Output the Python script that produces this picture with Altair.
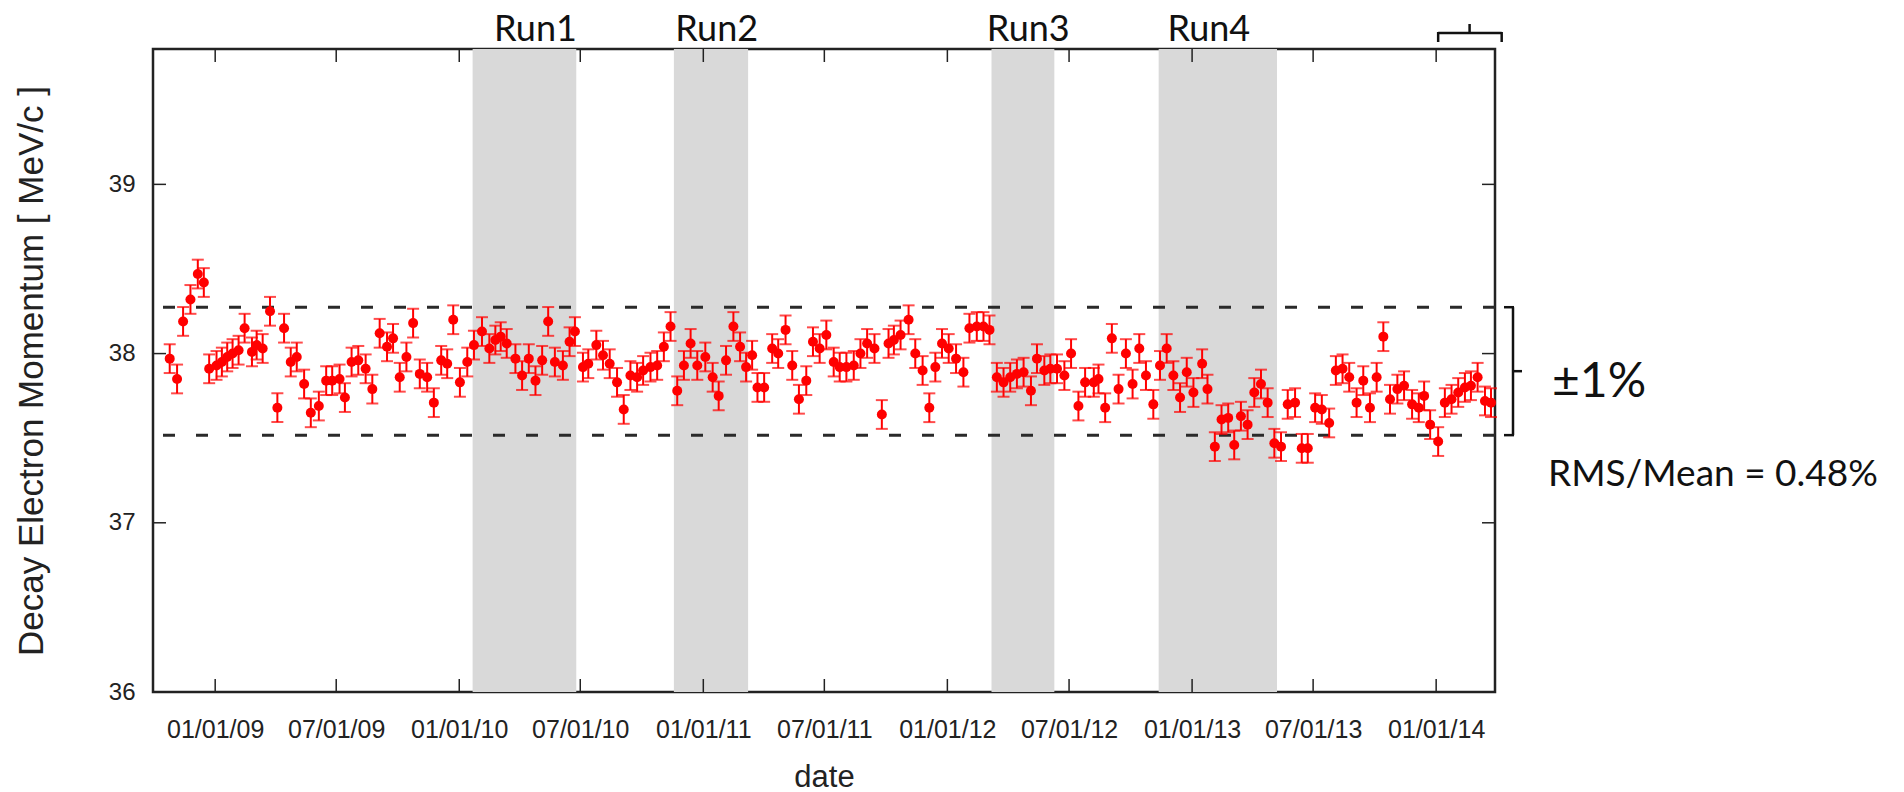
import altair as alt
import pandas as pd

# ---------------- data ----------------
BASE_DATE = "2009-01-01"
# days since 2009-01-01 for each measurement
DAYS = [-68, -57, -48, -37, -26, -17, -9, 2, 10, 18, 26, 35, 44, 55, 62, 71, 82, 93, 103, 113,
        122, 133, 143, 155, 166, 175, 186, 194, 204, 214, 225, 235, 246, 257, 266, 276, 286, 296, 306, 317,
        327, 338, 347, 356, 366, 377, 387, 399, 410, 419, 427, 436, 449, 459, 469, 479, 489, 498, 508, 520,
        530, 538, 550, 558, 570, 580, 590, 601, 611, 621, 631,
        640, 651, 661, 671, 681, 691, 701, 711, 721, 733, 744, 753, 764, 775, 785, 794, 803, 811, 821, 833,
        842, 853, 863, 873, 884, 894, 904, 914, 925, 934, 944, 955, 965, 975, 986, 997, 1007, 1015, 1025, 1037,
        1047, 1058, 1068, 1077, 1087, 1097, 1108, 1119, 1128, 1139, 1149, 1158, 1169, 1179, 1189, 1199, 1209,
        1220, 1229, 1240, 1249, 1259, 1270, 1280, 1291, 1301, 1314,
        1321, 1331, 1341, 1351, 1362, 1372, 1382, 1392, 1403, 1413, 1423, 1433, 1443, 1453, 1463, 1476, 1484,
        1495, 1505, 1515, 1524, 1534, 1544, 1554, 1564, 1574, 1584, 1594, 1604, 1615, 1625, 1634, 1645, 1655,
        1666, 1676, 1686, 1696, 1707, 1717, 1727, 1737, 1747, 1757, 1768, 1778, 1790, 1800, 1808, 1817, 1829,
        1839, 1849, 1859, 1869, 1878, 1888, 1899, 1908]
MOMENTUM = [37.97, 37.85, 38.19, 38.32, 38.47, 38.42, 37.91, 37.93, 37.95, 37.98,
            38.00, 38.02, 38.15, 38.01, 38.05, 38.03, 38.25, 37.68, 38.15, 37.95,
            37.98, 37.82, 37.65, 37.69, 37.84, 37.84, 37.85, 37.74, 37.95, 37.96,
            37.91, 37.79, 38.12, 38.04, 38.09, 37.86, 37.98, 38.18, 37.88, 37.86,
            37.71, 37.96, 37.94, 38.20, 37.83, 37.95, 38.05, 38.13, 38.03, 38.08,
            38.10, 38.06, 37.97, 37.87, 37.97, 37.84, 37.96, 38.19, 37.95, 37.93,
            38.07, 38.13, 37.92, 37.94, 38.05, 37.99, 37.94, 37.83, 37.67, 37.87, 37.86,
            37.90, 37.92, 37.93, 38.04, 38.16, 37.78, 37.93, 38.06, 37.93, 37.98,
            37.86, 37.75, 37.96, 38.16, 38.04, 37.92, 37.99, 37.80, 37.80, 38.03,
            38.00, 38.14, 37.93, 37.73, 37.84, 38.07, 38.03, 38.11, 37.95, 37.92,
            37.92, 37.93, 38.00, 38.06, 38.03, 37.64, 38.06, 38.08, 38.11, 38.20,
            38.00, 37.90, 37.68, 37.92, 38.06, 38.03, 37.97, 37.89, 38.15, 38.16,
            38.16, 38.14, 37.86, 37.83, 37.86, 37.88, 37.89, 37.78, 37.97, 37.90,
            37.91, 37.91, 37.87, 38.00, 37.69, 37.83, 37.83,
            37.85, 37.68, 38.09, 37.79, 38.00, 37.82, 38.03, 37.87, 37.70, 37.93,
            38.03, 37.87, 37.74, 37.89, 37.77, 37.94, 37.79, 37.45, 37.61, 37.62,
            37.46, 37.63, 37.58, 37.77, 37.82, 37.71, 37.47, 37.45, 37.70, 37.71,
            37.44, 37.44, 37.68, 37.67, 37.59, 37.90, 37.91, 37.86, 37.71, 37.84,
            37.68, 37.86, 38.10, 37.73, 37.79, 37.81, 37.70, 37.68, 37.75, 37.58,
            37.48, 37.71, 37.73, 37.77, 37.80, 37.81, 37.86, 37.72, 37.71]
ERR = 0.085

RUN_NAMES = ["Run1", "Run2", "Run3", "Run4"]
RUN_START = ["2010-01-21", "2010-11-18", "2012-03-07", "2012-11-12"]
RUN_END = ["2010-06-25", "2011-03-09", "2012-06-09", "2013-05-08"]
RUN_LABEL_AT = ["2010-04-25", "2011-01-21", "2012-05-01", "2013-01-26"]

X_TICKS = ["2009-01-01", "2009-07-01", "2010-01-01", "2010-07-01", "2011-01-01", "2011-07-01",
           "2012-01-01", "2012-07-01", "2013-01-01", "2013-07-01", "2014-01-01"]
X_DOMAIN = ["2008-09-30", "2014-03-30"]
Y_TICKS = [36, 37, 38, 39]
Y_DOMAIN = [36, 39.8]
BAND_LIMITS = [38.274, 37.518]          # mean +/- 1 %
BAND_MID = [37.896]
TOP_BRACE = ["2014-01-04", "2014-02-20", "2014-04-09"]
NOTE_PM = ["±1%"]
NOTE_RMS = ["RMS/Mean = 0.48%"]

X_TITLE = "date"
Y_TITLE = "Decay Electron Momentum [ MeV/c ]"

# ---------------- layout / style ----------------
W, H = 1342, 643
RED = "#ff0000"
INK = "#222222"
AXFONT = "Liberation Sans"
NOTEFONT = "Lato"


def ms(s):
    return int(pd.Timestamp(s, tz="UTC").value // 10**6)


x_scale = alt.Scale(type="utc", domain=[ms(X_DOMAIN[0]), ms(X_DOMAIN[1])])
y_scale = alt.Scale(domain=Y_DOMAIN, nice=False, zero=False)

x_axis = alt.Axis(values=[ms(t) for t in X_TICKS], format="%m/%d/%y", grid=False, domain=False,
                  ticks=False, tickSize=0, labelPadding=25, labelFont=AXFONT, labelFontSize=25,
                  labelColor=INK, title=X_TITLE, titleFont=AXFONT, titleFontSize=31,
                  titleFontWeight="normal", titleColor=INK, titleY=94, titleBaseline="alphabetic")
y_axis = alt.Axis(values=Y_TICKS, format="d", grid=False, domain=False, ticks=False, tickSize=0,
                  labelPadding=18, labelFont=AXFONT, labelFontSize=24, labelColor=INK,
                  title=Y_TITLE, titleFont=AXFONT, titleFontSize=35, titleFontWeight="normal",
                  titleColor=INK, titleAngle=270, titleX=-122, titleY=321.5, titleAlign="center",
                  titleBaseline="middle")


def X(field):
    return alt.X(field, type="temporal", scale=x_scale, axis=x_axis, title=X_TITLE)


def Y(field):
    return alt.Y(field, type="quantitative", scale=y_scale, axis=y_axis, title=Y_TITLE)


dates = (pd.Timestamp(BASE_DATE) + pd.to_timedelta(DAYS, unit="D")).strftime("%Y-%m-%d")
pts = pd.DataFrame({"date": list(dates), "p": MOMENTUM})
pts["lo"] = pts["p"] - ERR
pts["hi"] = pts["p"] + ERR
caps = pd.concat([pts[["date", "lo"]].rename(columns={"lo": "c"}),
                  pts[["date", "hi"]].rename(columns={"hi": "c"})])

runs = pd.DataFrame({"name": RUN_NAMES, "start": RUN_START, "end": RUN_END, "lab": RUN_LABEL_AT})
xt = pd.DataFrame({"t": X_TICKS})
yt = pd.DataFrame({"v": Y_TICKS})
lim = pd.DataFrame({"v": BAND_LIMITS})
mid = pd.DataFrame({"v": BAND_MID})
tb = pd.DataFrame({"a": [TOP_BRACE[0]], "m": [TOP_BRACE[1]], "b": [TOP_BRACE[2]]})
tb_ends = pd.DataFrame({"t": [TOP_BRACE[0], TOP_BRACE[2]]})

bands = alt.Chart(runs).mark_rect(color="#d9d9d9").encode(
    x=X("start"), x2="end", y=alt.value(0), y2=alt.value(H))

dashed = alt.Chart(lim).mark_rule(color="#2a2a2a", strokeWidth=3, strokeDash=[12, 21]).encode(y=Y("v"))

ebars = alt.Chart(pts).mark_rule(color=RED, strokeWidth=2).encode(x=X("date"), y=Y("lo"), y2="hi")
ecaps = alt.Chart(caps).mark_tick(color=RED, orient="horizontal", size=12, thickness=2).encode(
    x=X("date"), y=Y("c"))
dots = alt.Chart(pts).mark_circle(color=RED, size=100, opacity=1).encode(x=X("date"), y=Y("p"))

tick_style = dict(color=INK, strokeWidth=1.5)
xt_bot = alt.Chart(xt).mark_rule(**tick_style).encode(x=X("t"), y=alt.value(H), y2=alt.value(H - 13))
xt_top = alt.Chart(xt).mark_rule(**tick_style).encode(x=X("t"), y=alt.value(0), y2=alt.value(13))
yt_l = alt.Chart(yt).mark_rule(**tick_style).encode(y=Y("v"), x=alt.value(0), x2=alt.value(13))
yt_r = alt.Chart(yt).mark_rule(**tick_style).encode(y=Y("v"), x=alt.value(W - 13), x2=alt.value(W))

run_text = alt.Chart(runs).mark_text(font=NOTEFONT, fontSize=36, color="#111111",
                                     baseline="alphabetic", align="center").encode(
    x=X("lab"), y=alt.value(-8), text="name")

brace_style = dict(color="#111111", strokeWidth=2.5)
br_v = alt.Chart(pd.DataFrame({"a": [BAND_LIMITS[0]], "b": [BAND_LIMITS[1]]})).mark_rule(**brace_style).encode(
    y=Y("a"), y2="b", x=alt.value(W + 18))
br_s = alt.Chart(lim).mark_rule(**brace_style).encode(y=Y("v"), x=alt.value(W + 9), x2=alt.value(W + 19))
br_m = alt.Chart(mid).mark_rule(**brace_style).encode(y=Y("v"), x=alt.value(W + 18), x2=alt.value(W + 27))

tb_h = alt.Chart(tb).mark_rule(**brace_style).encode(x=X("a"), x2="b", y=alt.value(-16))
tb_e = alt.Chart(tb_ends).mark_rule(**brace_style).encode(x=X("t"), y=alt.value(-17), y2=alt.value(-7))
tb_m = alt.Chart(tb).mark_rule(**brace_style).encode(x=X("m"), y=alt.value(-15), y2=alt.value(-25))

pm_text = alt.Chart(pd.DataFrame({"s": NOTE_PM})).mark_text(
    font=NOTEFONT, fontSize=48, color="#111111", align="left", baseline="alphabetic").encode(
    x=alt.value(W + 57), y=alt.value(348), text="s")
rms_text = alt.Chart(pd.DataFrame({"s": NOTE_RMS})).mark_text(
    font=NOTEFONT, fontSize=37, color="#111111", align="left", baseline="alphabetic").encode(
    x=alt.value(W + 53), y=alt.value(437), text="s")

chart = alt.layer(
    bands, dashed, ebars, ecaps, dots, xt_bot, xt_top, yt_l, yt_r, run_text,
    br_v, br_s, br_m, tb_h, tb_e, tb_m, pm_text, rms_text
).properties(
    width=W, height=H, autosize=alt.AutoSizeParams(type="none"),
    padding={"left": 153, "top": 49, "right": 1904 - 153 - W, "bottom": 792 - 49 - H},
    background="white",
).configure_view(stroke=INK, strokeWidth=2.5)

chart.save("out.html", embed_options={"renderer": "svg", "actions": False})
